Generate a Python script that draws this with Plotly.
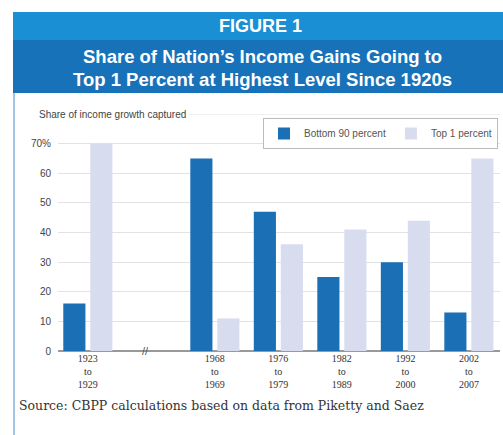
import plotly.graph_objects as go

periods = ["1923<br>to<br>1929", "1968<br>to<br>1969", "1976<br>to<br>1979",
           "1982<br>to<br>1989", "1992<br>to<br>2000", "2002<br>to<br>2007"]
positions = [0, 2, 3, 4, 5, 6]
bottom90 = [16, 65, 47, 25, 30, 13]
top1 = [70, 11, 36, 41, 44, 65]
ytick_vals = [0, 10, 20, 30, 40, 50, 60, 70, 80]
ytick_text = ["0", "10", "20", "30", "40", "50", "60", "70%", ""]

W, H = 503, 435
L, R, T, B = 58, 3, 114, 84
pw, ph = W - L - R, H - T - B

def px(p):
    return (p - L) / pw

def py(p):
    return (H - B - p) / ph

fig = go.Figure()
fig.add_trace(go.Bar(x=positions, y=bottom90, name="Bottom 90 percent",
                     marker=dict(color="#1b6fb5", line=dict(width=0))))
fig.add_trace(go.Bar(x=positions, y=top1, name="Top 1 percent",
                     marker=dict(color="#d8dcef", line=dict(width=0))))

shapes = [
    dict(type="rect", xref="paper", yref="paper", x0=px(13), x1=px(503), y0=py(40), y1=py(12),
         fillcolor="#1a8fd4", line=dict(width=0), layer="below"),
    dict(type="rect", xref="paper", yref="paper", x0=px(13), x1=px(503), y0=py(93), y1=py(40),
         fillcolor="#1772ba", line=dict(width=0), layer="below"),
    dict(type="line", xref="paper", yref="paper", x0=px(14), x1=px(14), y0=py(435), y1=py(93),
         line=dict(color="#9fc6e6", width=2)),
    dict(type="line", xref="paper", yref="y", x0=0, x1=1, y0=80, y1=80,
         line=dict(color="#e2e2e2", width=1), layer="below"),
]

annotations = [
    dict(text="<b>FIGURE 1</b>", xref="paper", yref="paper", x=px(260), y=py(26),
         showarrow=False, font=dict(family="Liberation Sans, Arial", size=18, color="white"),
         xanchor="center", yanchor="middle"),
    dict(text="<b>Share of Nation’s Income Gains Going to</b>", xref="paper", yref="paper",
         x=px(262), y=py(56), showarrow=False,
         font=dict(family="Liberation Sans, Arial", size=18.5, color="white"),
         xanchor="center", yanchor="middle"),
    dict(text="<b>Top 1 Percent at Highest Level Since 1920s</b>", xref="paper", yref="paper",
         x=px(262), y=py(79), showarrow=False,
         font=dict(family="Liberation Sans, Arial", size=18.5, color="white"),
         xanchor="center", yanchor="middle"),
    dict(text="Share of income growth captured", xref="paper", yref="paper",
         x=px(36), y=py(114), showarrow=False, bgcolor="white",
         font=dict(family="Liberation Sans Narrow, Liberation Sans, Arial", size=10, color="#444"),
         xanchor="left", yanchor="middle", borderpad=2),
    dict(text="//", xref="x", yref="y", x=0.9, y=0, showarrow=False,
         font=dict(family="Liberation Sans", size=11, color="#555"),
         xanchor="center", yanchor="middle"),
    dict(text="Source: CBPP calculations based on data from Piketty and Saez", xref="paper", yref="paper",
         x=px(17), y=py(405), showarrow=False,
         font=dict(family="DejaVu Serif", size=12.5, color="#333"),
         xanchor="left", yanchor="middle"),
]

fig.update_layout(
    width=W, height=H,
    margin=dict(l=L, r=R, t=T, b=B),
    paper_bgcolor="white", plot_bgcolor="white",
    barmode="group", bargap=0.15, bargroupgap=0.18,
    showlegend=True,
    legend=dict(orientation="h", x=px(498), xanchor="right", y=py(118), yanchor="top",
                bgcolor="white", bordercolor="#bbbbbb", borderwidth=1,
                font=dict(family="Liberation Sans Narrow, Liberation Sans, Arial", size=10, color="#555"),
                itemsizing="constant", traceorder="normal"),
    shapes=shapes, annotations=annotations,
    xaxis=dict(range=[-0.47, 6.49], tickmode="array", tickvals=positions, ticktext=periods,
               showgrid=False, zeroline=False, showline=False, ticks="",
               tickfont=dict(family="Liberation Serif, Times New Roman", size=10, color="#333")),
    yaxis=dict(range=[0, 80], tickmode="array", tickvals=ytick_vals, ticktext=ytick_text,
               showgrid=True, gridcolor="#e2e2e2", gridwidth=1,
               zeroline=True, zerolinecolor="#999999", zerolinewidth=1.5,
               showline=False, ticks="", ticklabelstandoff=6,
               tickfont=dict(family="Liberation Sans Narrow, Liberation Sans, Arial", size=10, color="#444")),
)

fig.write_html("out.html")
